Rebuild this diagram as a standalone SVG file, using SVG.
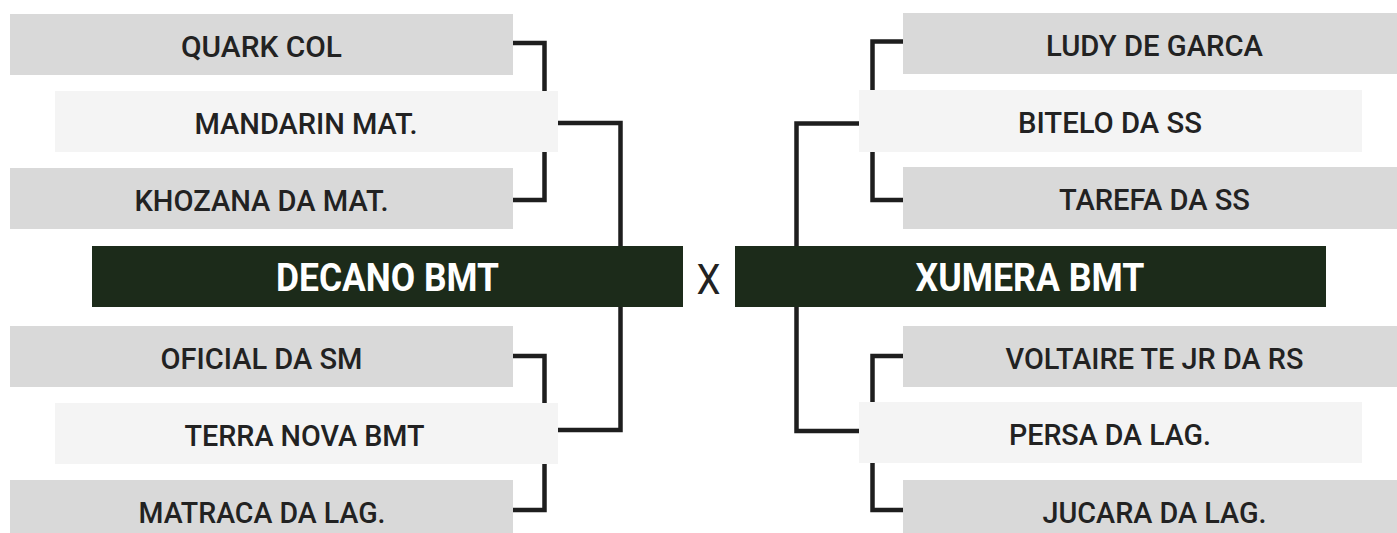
<svg xmlns="http://www.w3.org/2000/svg" width="1397" height="533" viewBox="0 0 1397 533">
<style>
.g{fill:#d9d9d9}
.l{fill:#f4f4f4}
.d{fill:#1c2b1a}
.t{font-family:Roboto,"Liberation Sans",sans-serif;font-weight:500;font-size:29px;fill:#222;text-anchor:middle}
.b{font-family:Roboto,"Liberation Sans",sans-serif;font-weight:700;font-size:38px;fill:#fff;text-anchor:middle}
.x{font-family:Roboto,"Liberation Sans",sans-serif;font-weight:400;font-size:43px;fill:#222;text-anchor:middle}
.c{fill:none;stroke:#1e1e1e;stroke-width:4.5;stroke-linejoin:miter}
</style>
<rect width="1397" height="533" fill="#fff"/>
<g id="connectors">
<path class="c" d="M513,43 H544.5 V200 H513"/>
<path class="c" d="M558,123 H620.5 V430 H558"/>
<path class="c" d="M513,356 H544.5 V510 H513"/>
<path class="c" d="M903,41.5 H872.5 V200 H903"/>
<path class="c" d="M859,123.5 H796.5 V431 H859"/>
<path class="c" d="M903,356 H872.5 V510 H903"/>
</g>
<g id="quark"><rect class="g" x="10" y="14" width="503" height="61"/><text class="t" x="261.5" y="56.5" textLength="161" lengthAdjust="spacingAndGlyphs">QUARK COL</text></g>
<g id="mandarin"><rect class="l" x="55" y="91" width="503" height="61"/><text class="t" x="306" y="133.5" textLength="223" lengthAdjust="spacingAndGlyphs">MANDARIN MAT.</text></g>
<g id="khozana"><rect class="g" x="10" y="168" width="503" height="61"/><text class="t" x="261.5" y="210.5" textLength="254" lengthAdjust="spacingAndGlyphs">KHOZANA DA MAT.</text></g>
<g id="decano"><rect class="d" x="92" y="246" width="591" height="61"/><text class="b" x="387.5" y="291" textLength="223" lengthAdjust="spacingAndGlyphs">DECANO BMT</text></g>
<g id="versus"><text class="x" x="708.5" y="294" textLength="24" lengthAdjust="spacingAndGlyphs">X</text></g>
<g id="xumera"><rect class="d" x="735" y="246" width="591" height="61"/><text class="b" x="1030" y="291" textLength="229" lengthAdjust="spacingAndGlyphs">XUMERA BMT</text></g>
<g id="oficial"><rect class="g" x="10" y="326" width="503" height="61"/><text class="t" x="261.5" y="368.5" textLength="202" lengthAdjust="spacingAndGlyphs">OFICIAL DA SM</text></g>
<g id="terra"><rect class="l" x="55" y="403" width="503" height="61"/><text class="t" x="304.5" y="445.5" textLength="240" lengthAdjust="spacingAndGlyphs">TERRA NOVA BMT</text></g>
<g id="matraca"><rect class="g" x="10" y="480" width="503" height="61"/><text class="t" x="262" y="522.5" textLength="247" lengthAdjust="spacingAndGlyphs">MATRACA DA LAG.</text></g>
<g id="ludy"><rect class="g" x="903" y="13" width="494" height="61"/><text class="t" x="1154.5" y="55.5" textLength="217" lengthAdjust="spacingAndGlyphs">LUDY DE GARCA</text></g>
<g id="bitelo"><rect class="l" x="859" y="90" width="503" height="62"/><text class="t" x="1110" y="132.5" textLength="184" lengthAdjust="spacingAndGlyphs">BITELO DA SS</text></g>
<g id="tarefa"><rect class="g" x="903" y="167" width="494" height="62"/><text class="t" x="1154.5" y="209.5" textLength="191" lengthAdjust="spacingAndGlyphs">TAREFA DA SS</text></g>
<g id="voltaire"><rect class="g" x="903" y="326" width="494" height="61"/><text class="t" x="1154.5" y="368.5" textLength="298" lengthAdjust="spacingAndGlyphs">VOLTAIRE TE JR DA RS</text></g>
<g id="persa"><rect class="l" x="859" y="402" width="503" height="61"/><text class="t" x="1110" y="444.5" textLength="202" lengthAdjust="spacingAndGlyphs">PERSA DA LAG.</text></g>
<g id="jucara"><rect class="g" x="903" y="480" width="494" height="61"/><text class="t" x="1154.5" y="522.5" textLength="224" lengthAdjust="spacingAndGlyphs">JUCARA DA LAG.</text></g>
</svg>
